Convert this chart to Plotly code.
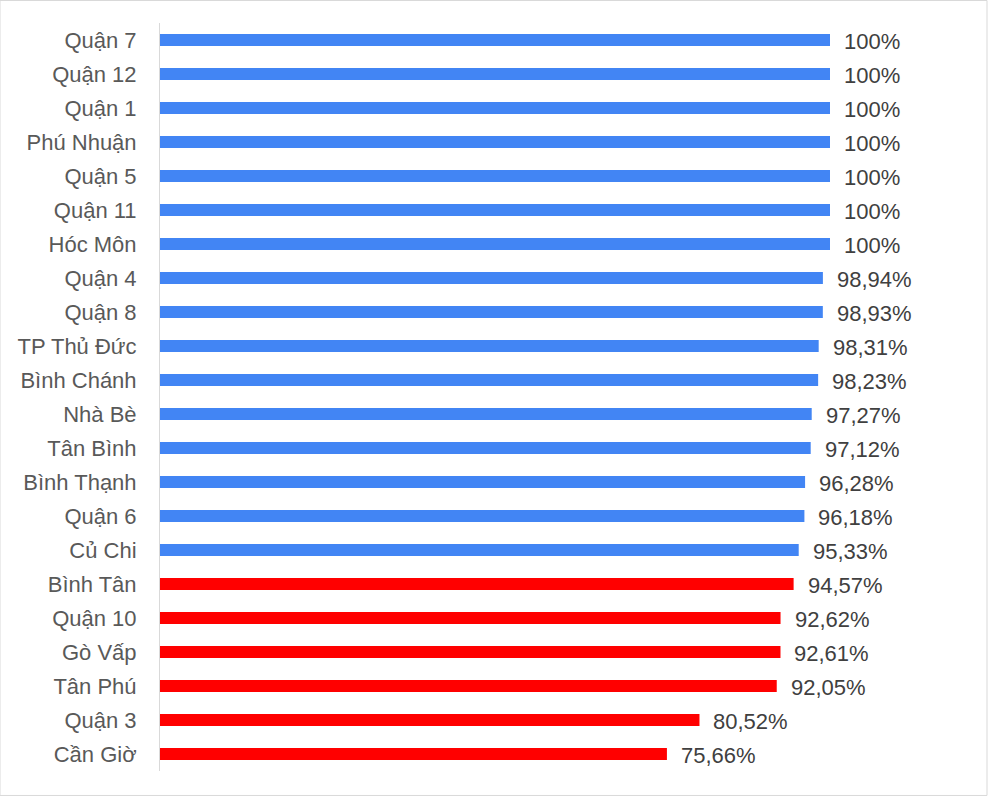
import plotly.graph_objects as go

categories = ["Quận 7", "Quận 12", "Quận 1", "Phú Nhuận", "Quận 5", "Quận 11", "Hóc Môn",
              "Quận 4", "Quận 8", "TP Thủ Đức", "Bình Chánh", "Nhà Bè", "Tân Bình",
              "Bình Thạnh", "Quận 6", "Củ Chi", "Bình Tân", "Quận 10", "Gò Vấp",
              "Tân Phú", "Quận 3", "Cần Giờ"]
values = [100, 100, 100, 100, 100, 100, 100, 98.94, 98.93, 98.31, 98.23, 97.27, 97.12,
          96.28, 96.18, 95.33, 94.57, 92.62, 92.61, 92.05, 80.52, 75.66]
labels = ["100%"] * 7 + ["98,94%", "98,93%", "98,31%", "98,23%", "97,27%", "97,12%",
                         "96,28%", "96,18%", "95,33%", "94,57%", "92,62%", "92,61%",
                         "92,05%", "80,52%", "75,66%"]
threshold = 95

colors = ["#4285F4" if v >= threshold else "#FF0000" for v in values]
FONT = "Liberation Sans, Arial"
FS = 22

fig = go.Figure(go.Bar(
    x=values, y=categories, orientation="h",
    marker=dict(color=colors, line=dict(width=0)),
    width=0.36, hoverinfo="skip",
))

for c, v, t in zip(categories, values, labels):
    fig.add_annotation(x=v, y=c, text=t, showarrow=False, xanchor="left",
                       xshift=12, yshift=-1, font=dict(size=FS, color="#404040", family=FONT))

fig.add_shape(type="rect", xref="paper", yref="paper",
              x0=-0.2, x1=1.03375, y0=-0.0327, y1=1.0301,
              line=dict(color="#d9d9d9", width=1), layer="above")

fig.update_layout(
    width=988, height=796,
    margin=dict(l=160, r=28, t=23, b=25),
    paper_bgcolor="white", plot_bgcolor="white",
    showlegend=False,
    font=dict(family=FONT, size=FS, color="#404040"),
    xaxis=dict(range=[0, 800 / 6.7], visible=False, showgrid=False, zeroline=False),
    yaxis=dict(autorange="reversed", showline=True, linecolor="#d9d9d9", linewidth=1,
               ticks="", showgrid=False, ticklabelstandoff=18,
               tickfont=dict(size=FS, color="#595959", family=FONT)),
)

fig.write_html("out.html")
